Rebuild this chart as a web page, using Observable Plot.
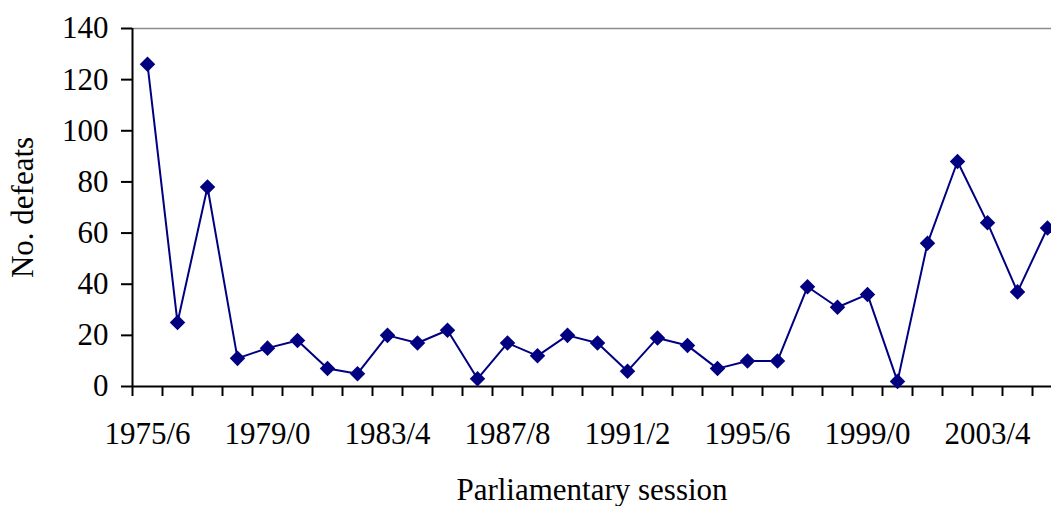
<!DOCTYPE html>
<html>
<head>
<meta charset="utf-8">
<script src="https://cdn.jsdelivr.net/npm/d3@7"></script>
<script src="https://cdn.jsdelivr.net/npm/@observablehq/plot@0.6"></script>
<style>
  html, body { margin: 0; padding: 0; background: #ffffff; }
  svg { display: block; }
</style>
</head>
<body>
<div id="chart"></div>
<script>
const sessions = [
  "1975/6","1976/7","1977/8","1978/9","1979/0","1980/1","1981/2","1982/3",
  "1983/4","1984/5","1985/6","1986/7","1987/8","1988/9","1989/0","1990/1",
  "1991/2","1992/3","1993/4","1994/5","1995/6","1996/7","1997/8","1998/9",
  "1999/0","2000/1","2001/2","2002/3","2003/4","2004/5","2005/6"
];
const defeats = [
  126, 25, 78, 11, 15, 18, 7, 5,
  20, 17, 22, 3, 17, 12, 20, 17,
  6, 19, 16, 7, 10, 10, 39, 31,
  36, 2, 56, 88, 64, 37, 62
];
const xTickLabels = ["1975/6","1979/0","1983/4","1987/8","1991/2","1995/6","1999/0","2003/4"];
const yTicks = [0, 20, 40, 60, 80, 100, 120, 140];

const data = sessions.map((s, i) => ({i, session: s, defeats: defeats[i]}));
const xLabelIdx = xTickLabels.map(l => sessions.indexOf(l));
const boundaries = d3.range(sessions.length + 1).map(i => i - 0.5);

const chart = Plot.plot({
  width: 1051,
  height: 506,
  marginLeft: 132,
  marginRight: 0,
  marginTop: 28,
  marginBottom: 120,
  style: {
    fontFamily: "'Liberation Serif', 'Times New Roman', serif",
    fontSize: "31px",
    background: "#ffffff",
    color: "#000000",
    overflow: "hidden"
  },
  x: {type: "linear", domain: [-0.5, sessions.length - 0.5], range: [132, 1062]},
  y: {domain: [0, 140]},
  marks: [
    Plot.ruleY([140], {stroke: "#8c8c8c", strokeWidth: 1.5}),
    Plot.axisY({
      ticks: yTicks, tickSize: 11, tickPadding: 13, strokeWidth: 2,
      label: "No. defeats", labelAnchor: "center", labelOffset: 122, labelArrow: "none"
    }),
    Plot.axisX({
      ticks: boundaries, tickSize: 10, strokeWidth: 2,
      tickFormat: () => "", label: null
    }),
    Plot.axisX({
      ticks: xLabelIdx, tickSize: 0, tickPadding: 35,
      tickFormat: i => sessions[i],
      label: "Parliamentary session", labelAnchor: "center", labelOffset: 113, labelArrow: "none"
    }),
    Plot.ruleY([0], {stroke: "#000", strokeWidth: 2}),
    Plot.ruleX([-0.5], {stroke: "#000", strokeWidth: 2}),
    Plot.line(data, {x: "i", y: "defeats", stroke: "#000080", strokeWidth: 2}),
    Plot.dot(data, {x: "i", y: "defeats", symbol: "diamond2", r: 7, fill: "#000080", stroke: "none"})
  ]
});
document.getElementById("chart").appendChild(chart);
</script>
</body>
</html>
